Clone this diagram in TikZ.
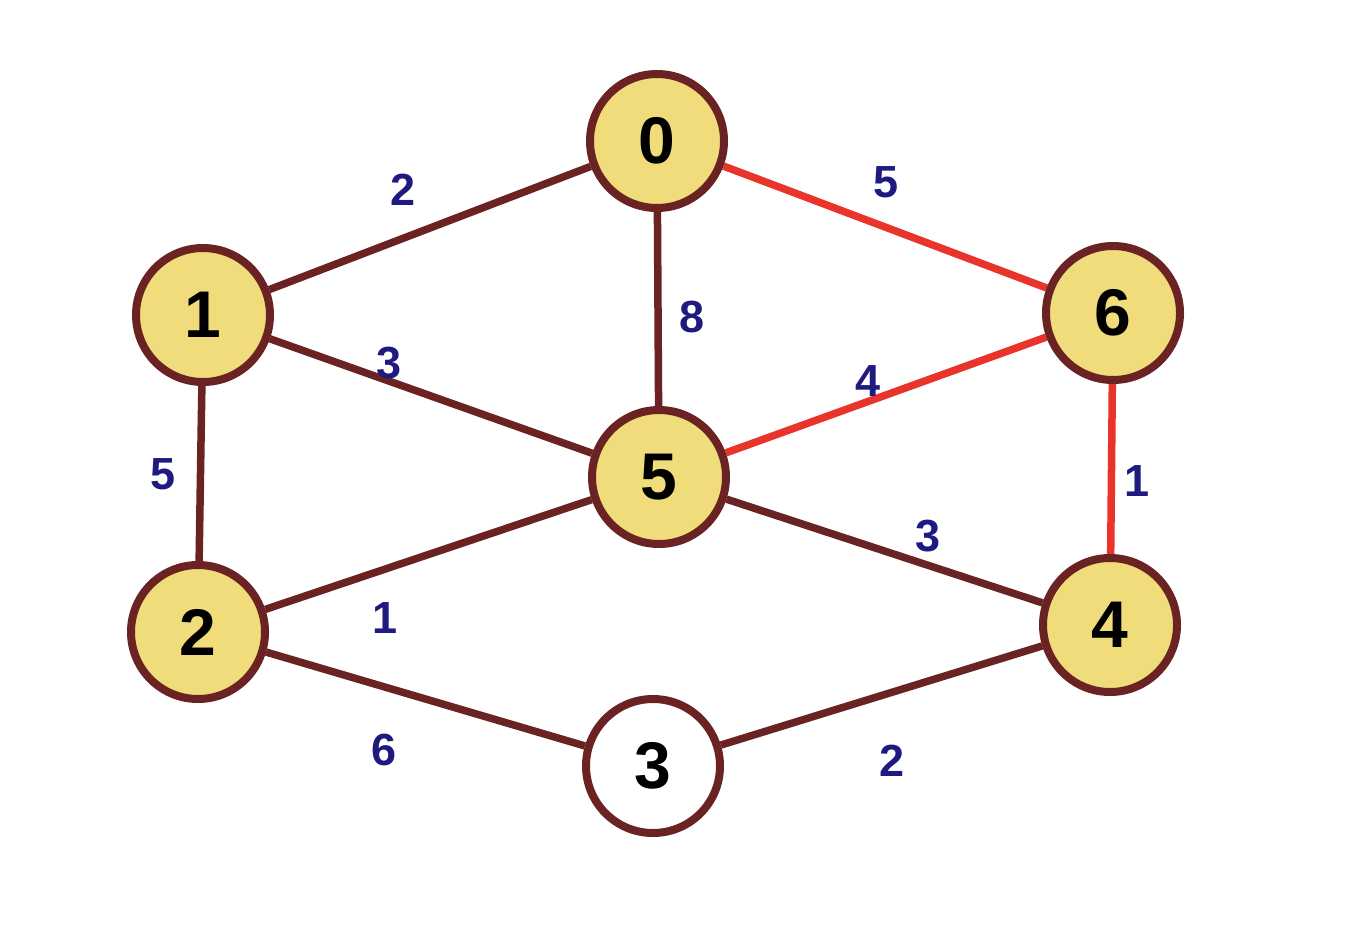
\documentclass[tikz,border=0pt]{standalone}
\usepackage{fontspec}
\setmainfont{Liberation Sans}
\usetikzlibrary{backgrounds}
\definecolor{nodefill}{HTML}{F0DC7A}
\definecolor{border}{HTML}{6A2222}
\definecolor{hot}{HTML}{E8342A}
\definecolor{lbl}{HTML}{1E1A80}
\begin{document}
\begin{tikzpicture}[x=1pt,y=-1pt,
  vert/.style={circle,draw=border,line width=8pt,fill=nodefill,minimum size=134pt,inner sep=0pt,font=\fontsize{66}{66}\selectfont\bfseries},
  plain/.style={vert,fill=white},
  edge/.style={draw=border,line width=7.5pt},
  hotedge/.style={draw=hot,line width=7.5pt},
  wt/.style={text=lbl,font=\fontsize{45}{45}\selectfont\bfseries,inner sep=0pt}]
\useasboundingbox (0,0) rectangle (1349,924);
\node[vert] (n0) at (657,141) {0};
\node[vert] (n1) at (203,315) {1};
\node[vert] (n6) at (1113,313) {6};
\node[vert] (n5) at (659,477) {5};
\node[vert] (n2) at (198,632) {2};
\node[vert] (n4) at (1110,625) {4};
\node[plain] (n3) at (653,766) {3};
\begin{pgfonlayer}{background}
\draw[edge] (n0) -- (n1);
\draw[hotedge] (n0) -- (n6);
\draw[edge] (n0) -- (n5);
\draw[edge] (n1) -- (n5);
\draw[hotedge] (n5) -- (n6);
\draw[hotedge] (n6.center) -- (n4.center);
\draw[edge] (n1) -- (n2);
\draw[edge] (n2) -- (n5);
\draw[edge] (n5) -- (n4);
\draw[edge] (n2) -- (n3);
\draw[edge] (n3) -- (n4);
\end{pgfonlayer}
\node[wt] (w01) at (403,190) {2};
\node[wt] (w06) at (886,182) {5};
\node[wt] (w05) at (692,317) {8};
\node[wt] (w15) at (389,363) {3};
\node[wt] (w56) at (868,381) {4};
\node[wt] (w64) at (1137,481) {1};
\node[wt] (w12) at (163,474) {5};
\node[wt] (w25) at (385,618) {1};
\node[wt] (w54) at (928,536) {3};
\node[wt] (w23) at (384,750) {6};
\node[wt] (w34) at (892,761) {2};
\end{tikzpicture}
\end{document}
